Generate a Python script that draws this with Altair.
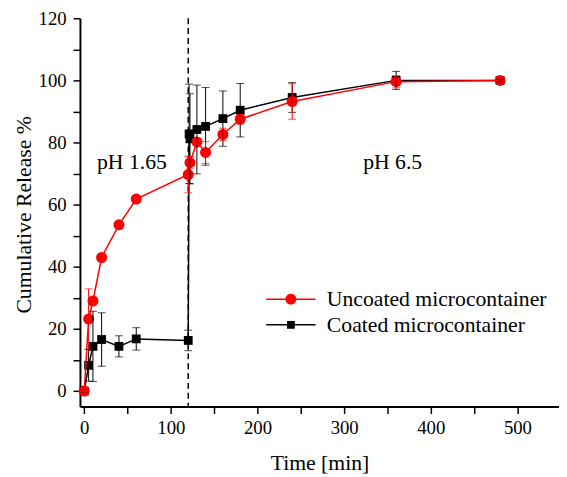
import altair as alt
import pandas as pd

# ---------------- data ----------------
names = ["Uncoated microcontainer", "Coated microcontainer"]

t_unc = [0, 5, 10, 20, 40, 60, 120, 122, 130, 140, 160, 180, 240, 360, 480]
rel_unc = [0, 23.2, 29.0, 43.0, 53.5, 61.8, 69.7, 73.5, 80.2, 76.8, 82.6, 87.5, 93.2, 99.6, 100.0]
err_unc = [0.5, 9.7, 1.0, 1.0, 1.0, 1.0, 5.9, 2.0, 1.0, 3.5, 2.0, 1.5, 5.7, 2.0, 0.5]

t_coat = [0, 5, 10, 20, 40, 60, 120, 121, 122, 130, 140, 160, 180, 240, 360, 480]
rel_coat = [0, 8.3, 14.4, 16.6, 14.4, 16.8, 16.3, 82.8, 81.2, 84.2, 85.2, 87.7, 90.4, 94.5, 100.0, 100.0]
err_coat = [0.5, 5.1, 11.3, 8.6, 3.4, 3.6, 3.3, 16.0, 14.5, 14.3, 12.5, 8.9, 8.6, 4.8, 2.9, 0.5]

switch_time = [120]
ann_text = ["pH 1.65", "pH 6.5"]
ann_t = [55, 356]
ann_y = [71.5, 71.5]

x_ticks = list(range(0, 501, 50))
y_ticks = list(range(0, 121, 10))

# ---------------- tables ----------------
df_unc = pd.DataFrame({"t": t_unc, "rel": rel_unc, "err": err_unc, "series": names[0]})
df_coat = pd.DataFrame({"t": t_coat, "rel": rel_coat, "err": err_coat, "series": names[1]})
for d in (df_unc, df_coat):
    d["lo"] = d["rel"] - d["err"]
    d["hi"] = d["rel"] + d["err"]
df_all = pd.concat([df_unc, df_coat], ignore_index=True)
df_rule = pd.DataFrame({"t": switch_time})
df_ann = pd.DataFrame({"t": ann_t, "rel": ann_y, "label": ann_text})

FONT = "Liberation Serif"
AXC = "#000000"
xs = alt.Scale(domain=[-5, 548], nice=False, zero=False)
ys = alt.Scale(domain=[-5, 120], nice=False, zero=False)

x_axis = alt.Axis(
    values=x_ticks,
    labelExpr="datum.value % 100 === 0 ? datum.label : ''",
    tickSize=7,
    grid=False, domainColor=AXC, domainWidth=2, tickColor=AXC, tickWidth=1.5,
    labelFont=FONT, labelFontSize=19, labelColor="black", labelPadding=5,
    title="Time [min]", titleFont=FONT, titleFontSize=22, titleFontWeight="normal",
    titleColor="black", titleBaseline="alphabetic", titleY=64,
)
y_axis = alt.Axis(
    values=y_ticks,
    labelExpr="datum.value % 20 === 0 ? datum.label : ''",
    tickSize=7,
    grid=False, domainColor=AXC, domainWidth=2, tickColor=AXC, tickWidth=1.5,
    labelFont=FONT, labelFontSize=19, labelColor="black", labelPadding=7,
    title="Cumulative Release %", titleFont=FONT, titleFontSize=22, titleFontWeight="normal",
    titleColor="black", titleBaseline="alphabetic", titleAngle=-90, titleX=-50, titleY=199,
    titleAlign="center",
)

def X():
    return alt.X("t:Q", scale=xs, axis=x_axis)

def Y(field="rel"):
    return alt.Y(f"{field}:Q", scale=ys, axis=y_axis)

rule = alt.Chart(df_rule).mark_rule(color="black", strokeDash=[6, 4], strokeWidth=1.5).encode(
    x=X()
)

def series_layers(df, color, shape, size):
    base = alt.Chart(df)
    line = base.mark_line(color=color, strokeWidth=1.5).encode(x=X(), y=Y())
    pts = base.mark_point(shape=shape, filled=True, size=size, color=color, opacity=1).encode(
        x=X(), y=Y()
    )
    return line, pts

def err_layers(df, color):
    base = alt.Chart(df)
    bar = base.mark_rule(color=color, strokeWidth=1).encode(x=X(), y=Y("lo"), y2="hi:Q")
    cap_lo = base.mark_tick(color=color, orient="horizontal", size=8, thickness=1).encode(
        x=X(), y=Y("lo")
    )
    cap_hi = base.mark_tick(color=color, orient="horizontal", size=8, thickness=1).encode(
        x=X(), y=Y("hi")
    )
    return bar, cap_lo, cap_hi

c_line, c_pts = series_layers(df_coat, "black", "square", 80)
u_line, u_pts = series_layers(df_unc, "#ff0000", "circle", 125)
c_err = err_layers(df_coat, "black")
u_err = err_layers(df_unc, "#ff0000")

circ_path = "M-4.55,-0.13H4.55V0.13H-4.55Z M1,0A1,1 0 1,1 -1,0A1,1 0 1,1 1,0Z"
sq_path = "M-4.55,-0.13H4.55V0.13H-4.55Z M-0.72,-0.72H0.72V0.72H-0.72Z"

leg = alt.Legend(
    orient="none", legendX=203, legendY=274, title=None, padding=0,
    labelFont=FONT, labelFontSize=22, labelColor="black", labelOffset=25.5, labelLimit=0,
    symbolSize=121, symbolStrokeWidth=0, rowPadding=4, symbolOpacity=1,
)
legend_layer = alt.Chart(df_all).mark_point(filled=True, size=121, opacity=1).encode(
    x=X(), y=Y(),
    color=alt.Color("series:N", scale=alt.Scale(domain=names, range=["#ff0000", "#000000"]), legend=leg),
    shape=alt.Shape("series:N", scale=alt.Scale(domain=names, range=[circ_path, sq_path]), legend=leg),
).transform_filter("false")

ann = alt.Chart(df_ann).mark_text(
    font=FONT, fontSize=22, color="black", align="center", baseline="alphabetic"
).encode(x=X(), y=Y(), text="label:N")

chart = alt.layer(
    rule, c_line, c_pts, u_line, u_pts, *c_err, *u_err, legend_layer, ann
).properties(
    width=486, height=394,
    autosize=alt.AutoSizeParams(type="none"),
    padding={"left": 73, "top": 7, "right": 0, "bottom": 68},
    background="white",
).configure_view(stroke=None).configure_axis(
    domainColor=AXC, tickColor=AXC, domainWidth=2, tickWidth=1.5
)

chart.save("out.html", embed_options={"renderer": "svg", "actions": False})
